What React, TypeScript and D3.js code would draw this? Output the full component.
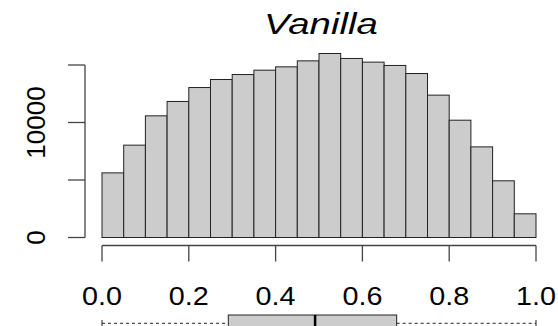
import React from "react";
import * as d3 from "d3";

// Histogram counts per 0.05-wide bin on [0, 1]
const binCounts = [5620, 8030, 10580, 11830, 13040, 13740, 14170, 14550, 14840, 15360,
  16000, 15570, 15250, 14960, 14260, 12380, 10200, 7880, 4930, 2060];
const binWidth = 0.05;
const xTicks = [0, 0.2, 0.4, 0.6, 0.8, 1.0];
const yTicks = [0, 5000, 10000, 15000];
const yLabelTicks = [0, 10000];
// Boxplot summary: min, Q1, median, Q3, max
const boxStats = [0.0, 0.291, 0.491, 0.679, 1.0];
const title = "Vanilla";

const W = 558;
const H = 326;
const FONT = "'Liberation Sans', Arial, Helvetica, sans-serif";

export default function App() {
  const x = d3.scaleLinear().domain([0, 1]).range([102, 536]);
  const y = d3.scaleLinear().domain([0, 15000]).range([237.5, 65]);
  const axisColor = "#444";
  const [bMin, q1, med, q3, bMax] = boxStats;
  const boxTop = 315;
  const boxMid = 323.3;
  const boxBot = 331.6;
  const titleX = 321;

  return (
    <svg width={W} height={H} style={{ position: "absolute", left: 0, top: 0, background: "#fff" }}>
      <text x={titleX} y={34} textAnchor="middle" fontFamily={FONT} fontStyle="italic"
        fontSize={30} fill="#000" transform={`translate(${titleX},0) scale(1.28,1) translate(${-titleX},0)`}>
        {title}
      </text>

      {binCounts.map((c, i) => (
        <rect key={i} x={x(i * binWidth)} y={y(c)} width={x((i + 1) * binWidth) - x(i * binWidth)}
          height={y(0) - y(c)} fill="#cccccc" stroke="#222" strokeWidth={1} />
      ))}

      {/* y axis */}
      <line x1={85} x2={85} y1={y(0)} y2={y(15000)} stroke={axisColor} strokeWidth={1.3} />
      {yTicks.map((t) => (
        <line key={t} x1={68} x2={85} y1={y(t)} y2={y(t)} stroke={axisColor} strokeWidth={1.3} />
      ))}
      {yLabelTicks.map((t) => (
        <text key={t} transform={`translate(45,${y(t)}) rotate(-90)`} textAnchor="middle"
          fontFamily={FONT} fontSize={26} fill="#000">
          {t}
        </text>
      ))}

      {/* x axis */}
      <line x1={x(0)} x2={x(1)} y1={245.5} y2={245.5} stroke={axisColor} strokeWidth={1.3} />
      {xTicks.map((t) => (
        <line key={t} x1={x(t)} x2={x(t)} y1={245.5} y2={261.5} stroke={axisColor} strokeWidth={1.3} />
      ))}
      {xTicks.map((t) => (
        <text key={t} x={x(t)} y={305} textAnchor="middle" fontFamily={FONT} fontSize={25}
          fill="#000" transform={`translate(${x(t)},0) scale(1.15,1) translate(${-x(t)},0)`}>
          {d3.format(".1f")(t)}
        </text>
      ))}

      {/* boxplot */}
      <line x1={x(bMin)} x2={x(q1)} y1={boxMid} y2={boxMid} stroke="#222" strokeDasharray="3,3" />
      <line x1={x(q3)} x2={x(bMax)} y1={boxMid} y2={boxMid} stroke="#222" strokeDasharray="3,3" />
      <line x1={x(bMin)} x2={x(bMin)} y1={320} y2={327} stroke="#222" />
      <line x1={x(bMax)} x2={x(bMax)} y1={320} y2={327} stroke="#222" />
      <rect x={x(q1)} y={boxTop} width={x(q3) - x(q1)} height={boxBot - boxTop}
        fill="#cccccc" stroke="#222" strokeWidth={1} />
      <line x1={x(med)} x2={x(med)} y1={boxTop} y2={boxBot} stroke="#000" strokeWidth={2.5} />
    </svg>
  );
}
